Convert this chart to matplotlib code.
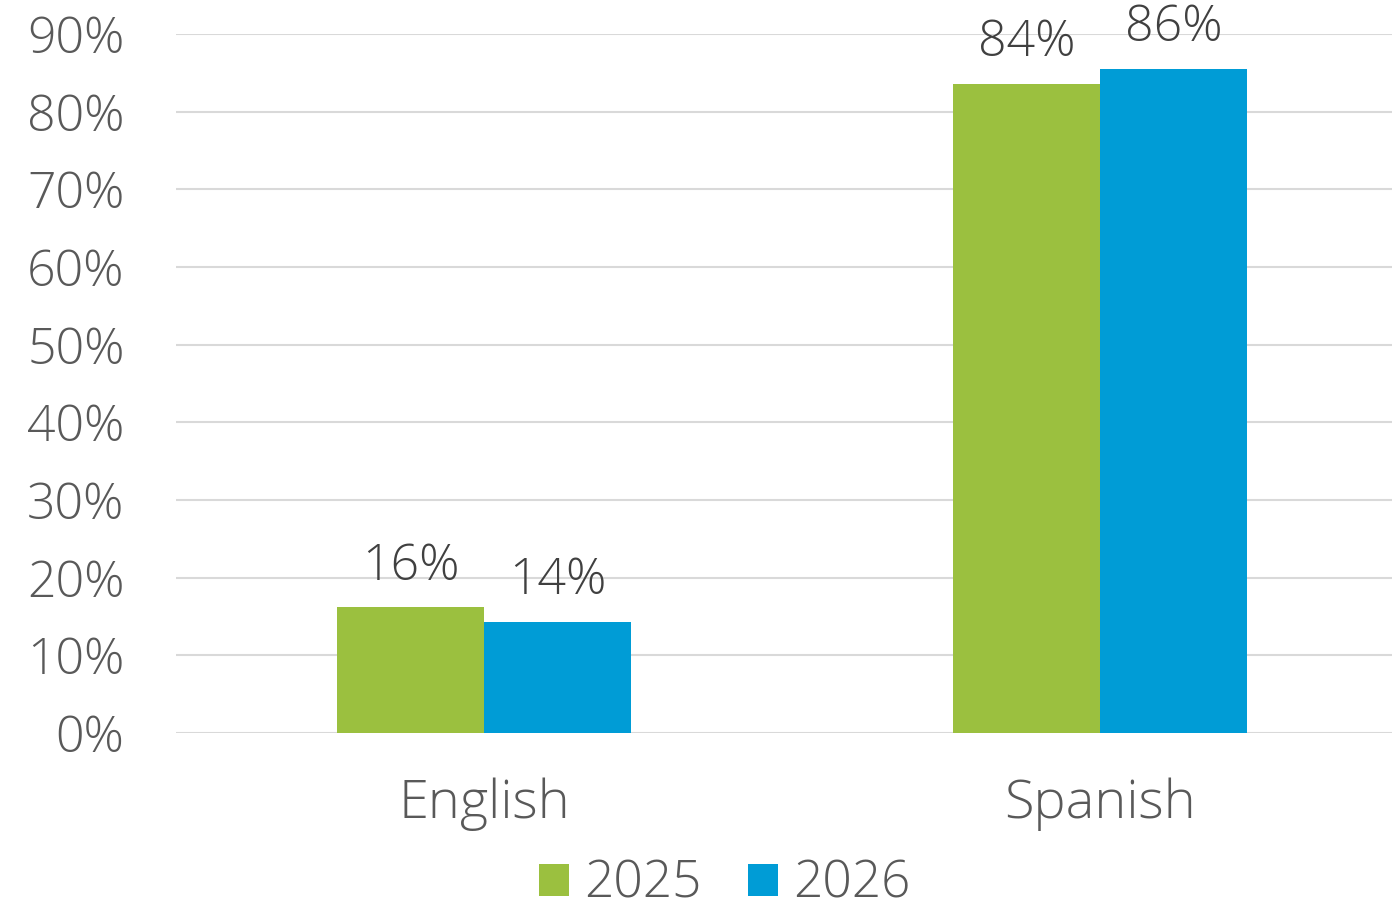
import matplotlib
matplotlib.use("Agg")
import matplotlib.pyplot as plt
import numpy as np

# datos
categories = ["English", "Spanish"]
series_names = ["2025", "2026"]
values_2025 = [16.2, 83.6]
values_2026 = [14.3, 85.5]
colors = ["#9BC03F", "#009CD6"]
yticks = list(range(0, 91, 10))

plt.rcParams['font.family'] = ['Open Sans', 'DejaVu Sans']
plt.rcParams['font.weight'] = 'light'

fig = plt.figure(figsize=(13.92, 9.11), dpi=100)
ax = fig.add_axes([176 / 1392, 1 - 733 / 911, 1 - 176 / 1392, (733 - 34) / 911])

x = np.arange(len(categories))
w = 0.239
for i, (vals, name) in enumerate(zip([values_2025, values_2026], series_names)):
    pos = x + (i - 0.5) * w
    bars = ax.bar(pos, vals, width=w, color=colors[i], label=name, zorder=3)
    for b, v in zip(bars, vals):
        ax.text(b.get_x() + b.get_width() / 2, v + 2.0, f"{v:.0f}%",
                ha='center', va='bottom', fontsize=36, color='#404040')

ax.set_ylim(0, 90)
ax.set_xlim(-0.5, 1.474)
ax.set_yticks(yticks)
ax.set_yticklabels([f"{t}%" for t in yticks], fontsize=36, color='#595959')
ax.set_xticks(x)
ax.set_xticklabels(categories, fontsize=39, color='#595959')
ax.tick_params(axis='both', length=0)
ax.tick_params(axis='y', pad=37)
ax.tick_params(axis='x', pad=32)
ax.grid(axis='y', color='#D9D9D9', linewidth=1.5, zorder=0)
for s in ax.spines.values():
    s.set_visible(False)

fig.legend(loc='center', bbox_to_anchor=(725 / 1392, 1 - 884 / 911), ncol=2,
           frameon=False, fontsize=37, handlelength=0.58, handleheight=0.58,
           handletextpad=0.3, columnspacing=0.9, labelcolor='#595959',
           borderpad=0.1)

fig.savefig("out.png", dpi=100)
